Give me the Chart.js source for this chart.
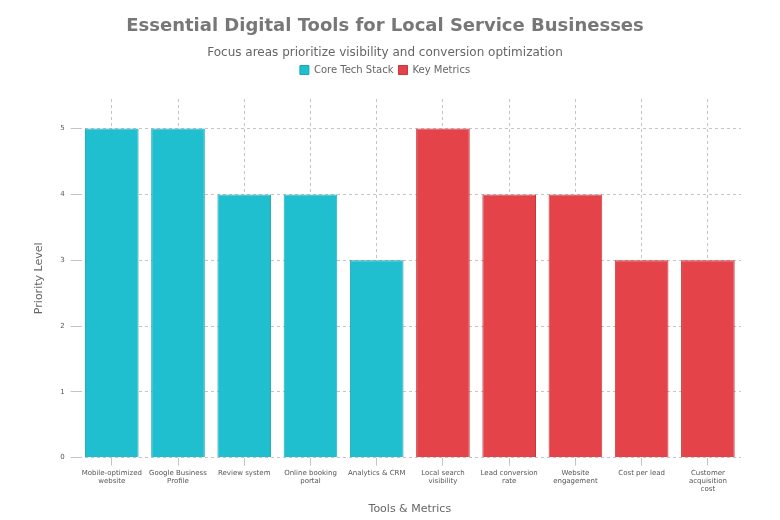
<!DOCTYPE html>
<html>
<head>
<meta charset="utf-8">
<script src="https://cdn.jsdelivr.net/npm/chart.js@4"></script>
<style>
html,body{margin:0;padding:0;background:#fff;}
#wrap{width:780px;height:520px;}
</style>
</head>
<body>
<div id="wrap"><canvas id="c" width="780" height="520"></canvas></div>
<script>
const categories = [
  ["Mobile-optimized", "website"],
  ["Google Business", "Profile"],
  "Review system",
  ["Online booking", "portal"],
  "Analytics & CRM",
  ["Local search", "visibility"],
  ["Lead conversion", "rate"],
  ["Website", "engagement"],
  "Cost per lead",
  ["Customer", "acquisition", "cost"]
];
const coreTechStack = [5, 5, 4, 4, 3, null, null, null, null, null];
const keyMetrics = [null, null, null, null, null, 5, 4, 4, 3, 3];
const yTicks = [0, 1, 2, 3, 4, 5];

Chart.defaults.font.family = "'DejaVu Sans', sans-serif";
Chart.defaults.color = '#666';

const legendGap = {
  id: 'legendGap',
  beforeInit(chart) {
    const origFit = chart.legend.fit;
    chart.legend.fit = function () {
      origFit.bind(chart.legend)();
      this.height += 14;
    };
  }
};

new Chart(document.getElementById('c'), {
  type: 'bar',
  data: {
    labels: categories,
    datasets: [
      { label: 'Core Tech Stack', data: coreTechStack, backgroundColor: '#1fbfcf', borderColor: '#1aa6b4', borderWidth: 1 },
      { label: 'Key Metrics', data: keyMetrics, backgroundColor: '#e5434a', borderColor: '#c9363c', borderWidth: 1 }
    ]
  },
  options: {
    responsive: false,
    animation: false,
    grouped: false,
    barPercentage: 0.9,
    categoryPercentage: 0.9,
    layout: { padding: { left: 29, right: 39, top: 12, bottom: 0 } },
    plugins: {
      title: { display: true, text: 'Essential Digital Tools for Local Service Businesses', font: { size: 18, weight: 'bold' }, color: '#777', padding: { top: 4, bottom: 8 } },
      subtitle: { display: true, text: 'Focus areas prioritize visibility and conversion optimization', font: { size: 12 }, color: '#666', padding: { bottom: 0 } },
      legend: { position: 'top', labels: { boxWidth: 9, boxHeight: 9, font: { size: 10 }, padding: 5 } },
      tooltip: { enabled: false }
    },
    scales: {
      x: {
        grid: { color: 'rgba(60,60,60,0.3)', offset: false },
        border: { display: false, dash: [3,3] },
        ticks: { font: { size: 7 }, maxRotation: 0, autoSkip: false, color: '#555' },
        title: { display: true, text: 'Tools & Metrics', font: { size: 11 }, color: '#666', padding: { top: 6 } }
      },
      y: {
        min: 0, max: 5.45,
        afterBuildTicks: (axis) => { axis.ticks = yTicks.map(v => ({ value: v })); },
        grid: { color: 'rgba(60,60,60,0.3)' },
        border: { display: false, dash: [3,3] },
        ticks: { font: { size: 7 }, color: '#555', padding: 6 },
        title: { display: true, text: 'Priority Level', font: { size: 11 }, color: '#666', padding: { bottom: 8 } }
      }
    }
  },
  plugins: [legendGap]
});
</script>
</body>
</html>
